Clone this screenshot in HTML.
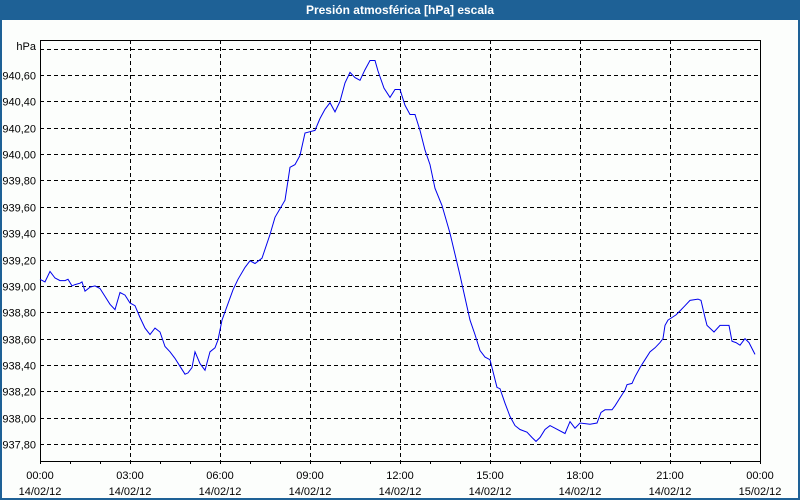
<!DOCTYPE html>
<html><head><meta charset="utf-8"><style>
body{margin:0;width:800px;height:500px;overflow:hidden;background:#fcfefc;font-family:"Liberation Sans","DejaVu Sans",sans-serif}
#frame{position:absolute;left:0;top:0;width:796px;height:498px;border:2px solid #1e6196;border-top:none;background:#fcfefc}
#title{position:absolute;left:0;top:0;width:800px;height:20px;background:#1e6196;color:#fff;font-weight:bold;font-size:12px;text-align:center;line-height:20px}
svg{position:absolute;left:0;top:0}
</style></head><body>
<div id="frame"></div>
<div id="title">Presión atmosférica [hPa] escala</div>
<svg id="chart" width="800" height="500"></svg>
<script>
const minutes=[0,10,20,30,40,50,56,64,70,80,84,90,100,110,120,130,140,150,160,170,180,190,200,210,220,230,240,250,260,270,280,290,296,304,310,320,330,340,350,356,364,386,396,410,420,430,444,460,470,490,500,510,520,530,540,550,560,570,580,590,600,610,620,630,640,650,660,670,676,688,700,710,720,730,740,750,760,770,780,790,804,820,840,860,870,880,890,900,914,920,930,940,950,960,974,984,992,1000,1010,1020,1030,1050,1060,1070,1080,1100,1114,1122,1130,1144,1150,1160,1170,1174,1184,1190,1200,1210,1220,1230,1240,1246,1250,1256,1264,1272,1280,1290,1300,1316,1322,1330,1334,1348,1360,1378,1384,1392,1400,1410,1418,1430];
const values=[939.05,939.03,939.11,939.06,939.04,939.04,939.05,939.00,939.01,939.02,939.03,938.96,938.99,939.00,938.98,938.92,938.86,938.82,938.95,938.93,938.87,938.85,938.76,938.68,938.63,938.68,938.65,938.54,938.50,938.45,938.39,938.33,938.34,938.38,938.50,938.41,938.36,938.50,938.53,938.59,938.74,938.97,939.05,939.14,939.19,939.17,939.21,939.39,939.52,939.65,939.90,939.92,939.99,940.16,940.17,940.18,940.27,940.34,940.39,940.32,940.40,940.54,940.62,940.58,940.56,940.64,940.71,940.71,940.63,940.50,940.43,940.49,940.49,940.37,940.30,940.30,940.18,940.03,939.92,939.74,939.61,939.40,939.08,938.74,938.63,938.51,938.46,938.44,938.23,938.22,938.11,938.01,937.94,937.91,937.89,937.85,937.82,937.85,937.91,937.94,937.92,937.88,937.97,937.92,937.96,937.95,937.96,938.04,938.06,938.06,938.09,938.15,938.21,938.25,938.26,938.31,938.38,938.44,938.50,938.53,938.57,938.60,938.70,938.74,938.76,938.78,938.81,938.85,938.89,938.90,938.89,938.76,938.70,938.65,938.70,938.70,938.58,938.57,938.55,938.60,938.57,938.48,938.42,938.40];
const yTicks=["937,80","938,00","938,20","938,40","938,60","938,80","939,00","939,20","939,40","939,60","939,80","940,00","940,20","940,40","940,60","940,80"];
const yTickVals=[937.8,938.0,938.2,938.4,938.6,938.8,939.0,939.2,939.4,939.6,939.8,940.0,940.2,940.4,940.6,940.8];
const xTimes=["00:00","03:00","06:00","09:00","12:00","15:00","18:00","21:00","00:00"];
const xDates=["14/02/12","14/02/12","14/02/12","14/02/12","14/02/12","14/02/12","14/02/12","14/02/12","15/02/12"];
const L=40,R=760,T=40,B=461;
const xs=m=>L+m/1440*(R-L);
const ys=v=>75+(940.6-v)*131.8;
const svg=document.getElementById('chart');
const NS='http://www.w3.org/2000/svg';
function mk(t,a){const e=document.createElementNS(NS,t);for(const k in a)e.setAttribute(k,a[k]);svg.appendChild(e);return e;}
yTickVals.forEach((v,i)=>{
 const y=Math.round(ys(v))+0.5;
 if(v<940.7){
 const g=mk('line',{x1:L,x2:R,y1:y,y2:y,stroke:'#000','stroke-dasharray':'4,3'});
 
 
 const t=mk('text',{x:36,y:y+4,'text-anchor':'end','font-size':'11',fill:'#000'});
 t.textContent=yTicks[i];
 
 
 } else {
 const g=mk('line',{x1:L,x2:R,y1:y,y2:y,stroke:'#000','stroke-dasharray':'4,3'});
 
 
 }
});
const u=mk('text',{x:36,y:50,'text-anchor':'end','font-size':'11',fill:'#000'});
u.textContent='hPa';


for(let h=0;h<=24;h++){
 const x=Math.round(xs(h*60))+0.5;
 const tk=mk('line',{x1:x,x2:x,y1:B,y2:B+3,stroke:'#000'});
 
 
 if(h%3===0&&h>0&&h<24){
  const g=mk('line',{x1:x,x2:x,y1:T,y2:B,stroke:'#000','stroke-dasharray':'4,3'});
  
  
 }
}
xTimes.forEach((s,i)=>{
 const x=xs(i*180);
 const t1=mk('text',{x:x,y:479,'text-anchor':'middle','font-size':'11',fill:'#000'});
 t1.textContent=s;
 
 
 const t2=mk('text',{x:x,y:495,'text-anchor':'middle','font-size':'11',fill:'#000'});
 t2.textContent=xDates[i];
 
 
});
const box=mk('rect',{x:L+0.5,y:T+0.5,width:R-L,height:B-T,fill:'none',stroke:'#000'});


const pts=minutes.map((m,i)=>xs(m).toFixed(1)+','+ys(values[i]).toFixed(1)).join(' ');
const pl=mk('polyline',{points:pts,fill:'none',stroke:'#0000ee','stroke-width':'1'});


</script>
</body></html>
